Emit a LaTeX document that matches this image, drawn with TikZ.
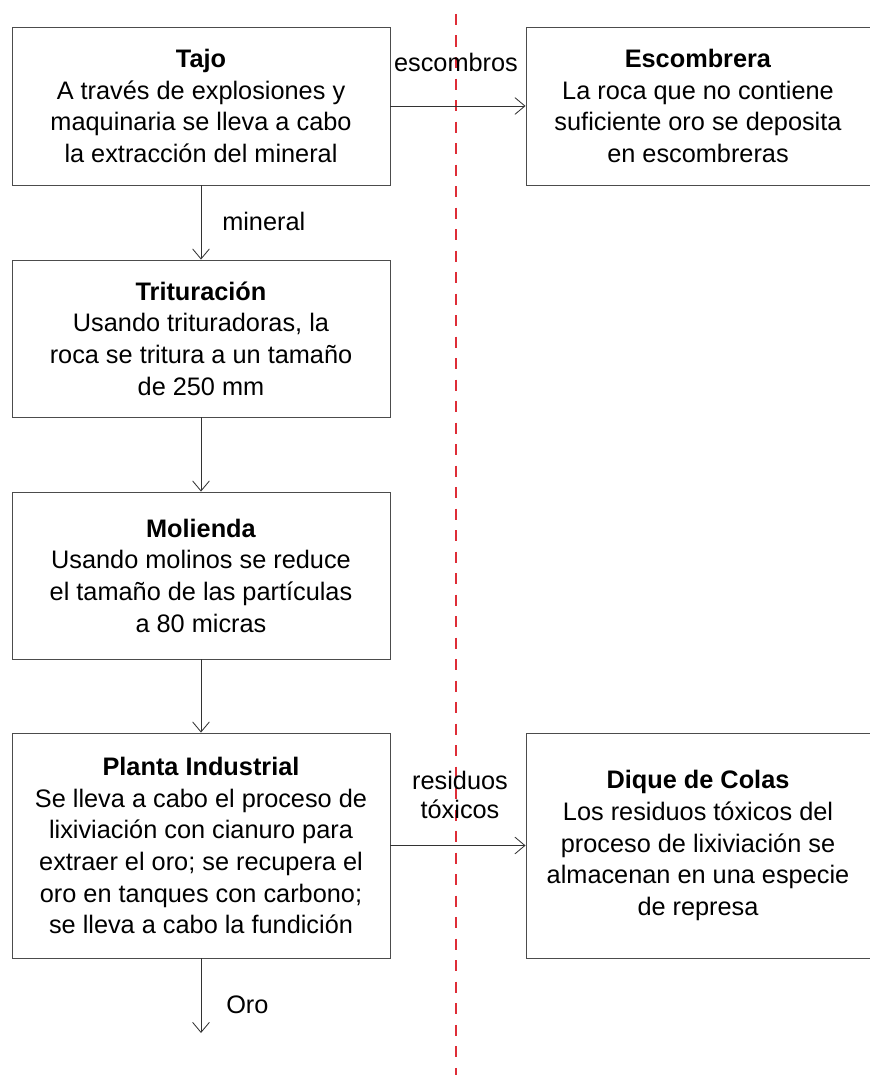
\documentclass[tikz,border=0pt]{standalone}
\usepackage{fontspec}
\setmainfont{Liberation Sans}
\usetikzlibrary{arrows.meta,positioning}
\usepackage{xcolor}

\definecolor{cutred}{RGB}{222,45,55}
\newcommand{\stagetitle}[1]{\textbf{#1}}

\begin{document}
\begin{tikzpicture}[
    x=0.025cm,
    y=-0.025cm,
    stage/.style={
        draw=black!70,
        line width=0.6pt,
        align=center,
        inner sep=0pt,
        font=\fontsize{18}{22.5}\selectfont
    },
    leftstage/.style={stage, minimum width=9.45cm},
    rightstage/.style={stage, minimum width=8.6cm},
    flow/.style={draw=black!80, line width=0.6pt,
        -{Straight Barb[length=2.5mm,width=4.2mm]}},
    flowlabel/.style={align=center, inner sep=0pt,
        font=\fontsize{18}{20.5}\selectfont},
    divider/.style={cutred, line width=1.4pt,
        dash pattern=on 0.275cm off 0.2625cm}
]
\useasboundingbox (0,0) rectangle (869,1075);

% ---------------- Divider ----------------
\draw[divider] (456,14) -- (456,1075);

% ---------------- Main line ----------------
\node[leftstage, minimum height=3.95cm] (tajo) at (201,106)
    {\stagetitle{Tajo}\\A través de explosiones y\\maquinaria se lleva a cabo\\la extracción del mineral};
\node[leftstage, minimum height=3.925cm] (trit) at (201,338.5)
    {\stagetitle{Trituración}\\Usando trituradoras, la\\roca se tritura a un tamaño\\de 250 mm};
\node[leftstage, minimum height=4.175cm] (mol) at (201,575.5)
    {\stagetitle{Molienda}\\Usando molinos se reduce\\el tamaño de las partículas\\a 80 micras};
\node[leftstage, minimum height=5.625cm] (planta) at (201,845.5)
    {\stagetitle{Planta Industrial}\\Se lleva a cabo el proceso de\\lixiviación con cianuro para\\extraer el oro; se recupera el\\oro en tanques con carbono;\\se lleva a cabo la fundición};
\coordinate (salida) at (201,1033);

% ---------------- Waste side ----------------
\node[rightstage, minimum height=3.95cm] (escom) at (698,106)
    {\stagetitle{Escombrera}\\La roca que no contiene\\suficiente oro se deposita\\en escombreras};
\node[rightstage, minimum height=5.625cm] (dique) at (698,845.5)
    {\stagetitle{Dique de Colas}\\Los residuos tóxicos del\\proceso de lixiviación se\\almacenan en una especie\\de represa};

% ---------------- Flows ----------------
\draw[flow] (tajo) -- (trit);
\draw[flow] (trit) -- (mol);
\draw[flow] (mol) -- (planta);
\draw[flow] (planta) -- (salida);
\draw[flow] (tajo) -- (escom);
\draw[flow] (planta) -- (dique);

% ---------------- Flow labels ----------------
\node[flowlabel] (lblescom) at (456,62) {escombros};
\node[flowlabel, anchor=west] (lblmin) at (222,221) {mineral};
\node[flowlabel, anchor=west] (lbloro) at (226,1005) {Oro};
\node[flowlabel] (lblres) at (460,795) {residuos\\tóxicos};

\end{tikzpicture}
\end{document}
